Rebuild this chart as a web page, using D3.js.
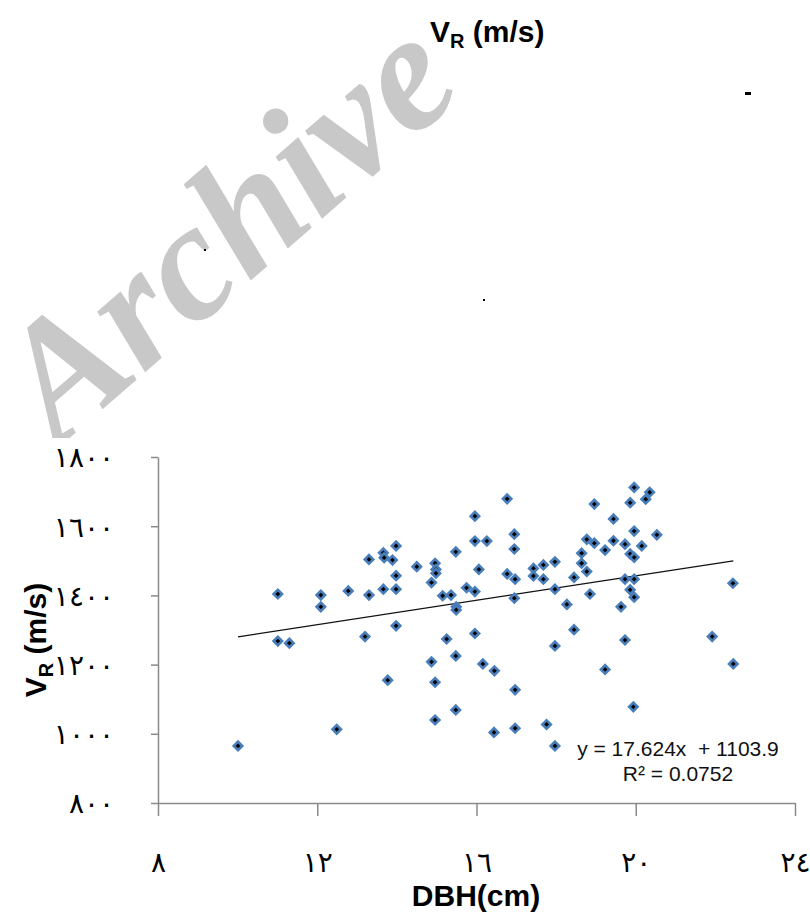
<!DOCTYPE html>
<html lang="en">
<head>
    <meta charset="UTF-8">
    <title>VR vs DBH</title>
    <script src="https://d3js.org/d3.v7.min.js"></script>
    <style>
        body { margin: 0; background: #fff; }
        svg { display: block; }
        .axis path, .axis line { stroke: #8a8a8a; stroke-width: 1.5; }
        .axis text { font-family: "DejaVu Sans", sans-serif; font-size: 28px; fill: #000; }
        .title { font-family: "Liberation Sans", Arial, sans-serif; font-weight: bold; fill: #000; }
        .eq { font-family: "Liberation Sans", Arial, sans-serif; font-size: 21px; fill: #111; }
        .mark { font-family: "Liberation Serif", "DejaVu Serif", "Times New Roman", serif; font-weight: bold; font-style: italic; fill: #c8c8c8; }
    </style>
</head>
<body>
    <svg></svg>

    <script>
        // DBH (cm) and VR (m/s)
        const dbh = [10.01, 11.01, 11.01, 11.30, 12.09, 12.09, 12.49, 12.78, 13.20, 13.30,
                     13.30, 13.66, 13.68, 13.89, 13.98, 13.98, 13.66, 13.98, 13.98, 13.77,
                     14.50, 14.96, 14.98, 14.98, 14.87, 14.87, 14.96, 14.96, 15.15, 15.36,
                     15.25, 15.48, 15.49, 15.49, 15.48, 15.48, 15.75, 15.96, 15.96, 16.26,
                     16.06, 15.96, 15.96, 16.16, 16.45, 16.44, 16.77, 16.95, 16.95, 16.77,
                     16.97, 16.95, 16.97, 16.97, 17.43, 17.43, 17.68, 17.68, 17.76, 17.97,
                     17.97, 17.97, 17.97, 18.27, 18.45, 18.45, 18.64, 18.64, 18.77, 18.77,
                     18.85, 18.96, 18.96, 19.23, 19.23, 19.44, 19.44, 19.63, 19.73, 19.73,
                     19.73, 19.86, 19.86, 19.96, 19.96, 19.96, 19.96, 19.86, 19.96, 19.94,
                     20.15, 20.25, 20.35, 20.53, 21.92, 22.44, 22.45];
        const vr = [965, 1404, 1268, 1262, 1401, 1367, 1013, 1413, 1281, 1504,
                    1401, 1523, 1509, 1502, 1543, 1457, 1418, 1418, 1312, 1155,
                    1483, 1493, 1475, 1464, 1437, 1208, 1149, 1040, 1399, 1401,
                    1274, 1526, 1367, 1358, 1225, 1069, 1422, 1629, 1557, 1557,
                    1475, 1411, 1290, 1202, 1182, 1004, 1679, 1577, 1534, 1462,
                    1447, 1392, 1127, 1016, 1478, 1456, 1488, 1447, 1027, 1497,
                    1418, 1254, 965, 1374, 1452, 1301, 1522, 1493, 1562, 1469,
                    1404, 1664, 1551, 1531, 1186, 1621, 1558, 1367, 1548, 1447,
                    1271, 1668, 1520, 1510, 1586, 1712, 1447, 1416, 1395, 1078,
                    1543, 1678, 1698, 1575, 1281, 1435, 1202];

        const xTicks = [8, 12, 16, 20, 24];
        const xTickLabels = ["٨", "١٢", "١٦", "٢٠", "٢٤"];
        const yTicks = [800, 1000, 1200, 1400, 1600, 1800];
        const yTickLabels = ["٨٠٠", "١٠٠٠", "١٢٠٠", "١٤٠٠", "١٦٠٠", "١٨٠٠"];

        const slope = 17.624, intercept = 1103.9;
        const eqLabel = "y = 17.624x  + 1103.9";
        const r2Label = "R² = 0.0752";

        const width = 810, height = 916;
        const svg = d3.select("svg").attr("width", width).attr("height", height);

        // grey watermark sitting behind everything
        svg.append("text")
            .attr("class", "mark")
            .attr("transform", "translate(58,448) rotate(-41)")
            .attr("font-size", 168)
            .text("Archive");

        // top title
        const topTitle = svg.append("text").attr("class", "title")
            .attr("x", 430).attr("y", 42).attr("font-size", 30);
        topTitle.append("tspan").text("V");
        topTitle.append("tspan").attr("font-size", 20).attr("dy", 6).text("R");
        topTitle.append("tspan").attr("dy", -6).text(" (m/s)");

        // stray marks in the scan
        svg.append("rect").attr("x", 745).attr("y", 92).attr("width", 6).attr("height", 3).attr("fill", "#000");
        svg.append("rect").attr("x", 204).attr("y", 249).attr("width", 2).attr("height", 2).attr("fill", "#000");
        svg.append("rect").attr("x", 483).attr("y", 299).attr("width", 2).attr("height", 2).attr("fill", "#000");

        // chart area covers the watermark
        svg.append("rect").attr("x", 0).attr("y", 438).attr("width", width).attr("height", height - 438).attr("fill", "#fff");

        const x = d3.scaleLinear().domain([8, 24]).range([158, 795]);
        const y = d3.scaleLinear().domain([800, 1800]).range([803, 457]);

        const yAxis = svg.append("g").attr("class", "axis")
            .attr("transform", `translate(${x(8)},0)`)
            .call(d3.axisLeft(y).tickValues(yTicks).tickFormat((d, i) => yTickLabels[i]).tickSize(7).tickSizeOuter(0));
        yAxis.selectAll("text").attr("x", -44).attr("dy", "0.35em");

        const xAxis = svg.append("g").attr("class", "axis")
            .attr("transform", `translate(0,${y(800)})`)
            .call(d3.axisBottom(x).tickValues(xTicks).tickFormat((d, i) => xTickLabels[i]).tickSize(13).tickSizeOuter(0));
        xAxis.selectAll("text").attr("y", 59).attr("dy", "0.35em");

        // trend line across the data range
        const xr = d3.extent(dbh);
        svg.append("line")
            .attr("x1", x(xr[0])).attr("y1", y(slope * xr[0] + intercept))
            .attr("x2", x(xr[1])).attr("y2", y(slope * xr[1] + intercept))
            .attr("stroke", "#111").attr("stroke-width", 1.3);

        svg.append("g")
            .selectAll("path")
            .data(dbh.map((d, i) => [d, vr[i]]))
            .join("path")
            .attr("d", d3.symbol(d3.symbolSquare, 36))
            .attr("transform", d => `translate(${x(d[0])},${y(d[1])}) rotate(45)`)
            .attr("fill", "#000")
            .attr("stroke", "#4a7ebb")
            .attr("stroke-width", 2.6);

        svg.append("text").attr("class", "eq")
            .attr("x", 678).attr("y", 756).attr("text-anchor", "middle")
            .style("white-space", "pre").text(eqLabel);
        svg.append("text").attr("class", "eq")
            .attr("x", 678).attr("y", 781).attr("text-anchor", "middle")
            .text(r2Label);

        // axis titles
        svg.append("text").attr("class", "title")
            .attr("x", 476).attr("y", 906).attr("text-anchor", "middle").attr("font-size", 30)
            .text("DBH(cm)");

        const yTitle = svg.append("text").attr("class", "title")
            .attr("transform", "translate(46,640) rotate(-90)")
            .attr("text-anchor", "middle").attr("font-size", 30);
        yTitle.append("tspan").text("V");
        yTitle.append("tspan").attr("font-size", 20).attr("dy", 7).text("R");
        yTitle.append("tspan").attr("dy", -7).text(" (m/s)");
    </script>
</body>
</html>
